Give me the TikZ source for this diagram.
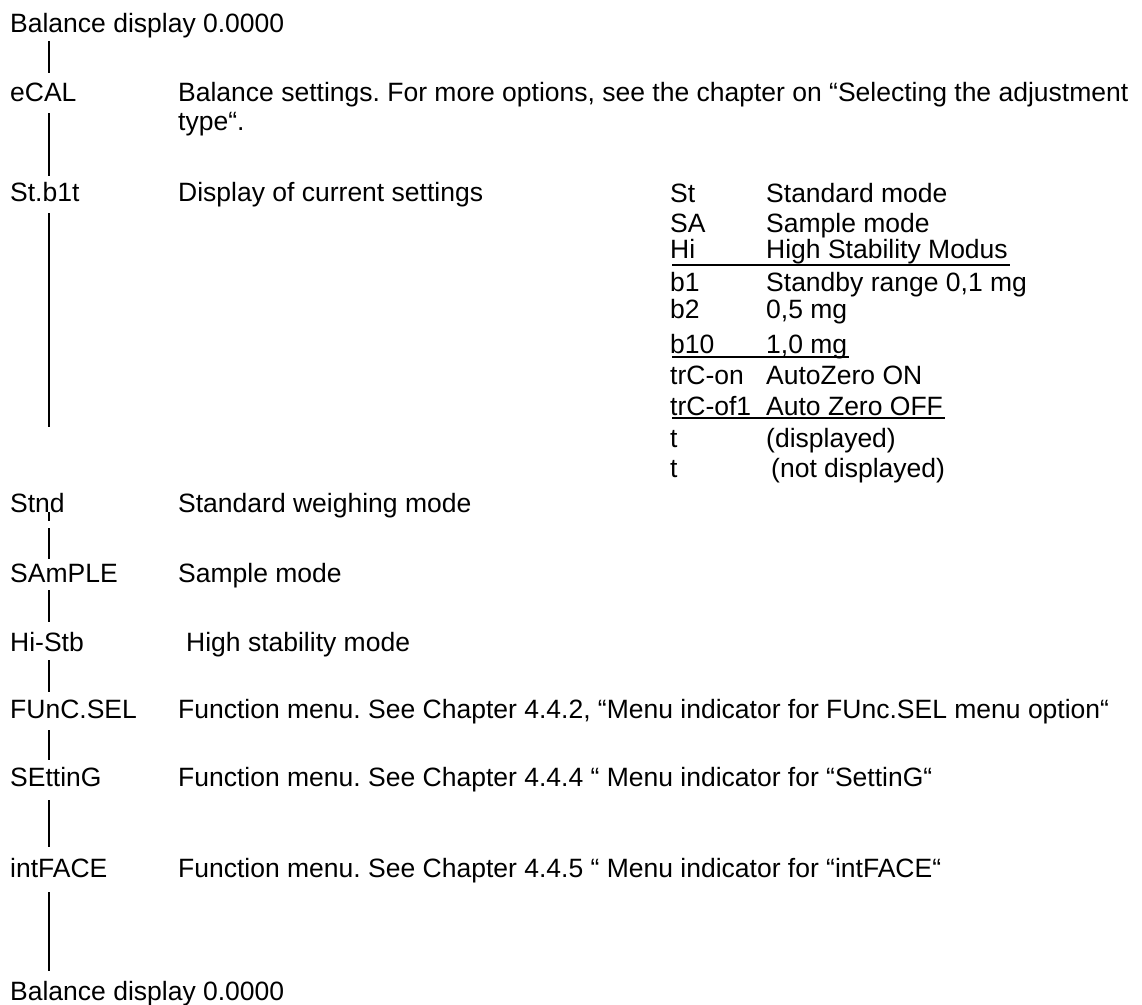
\documentclass[tikz,border=0pt]{standalone}
\usepackage{fontspec}
\setmainfont{Liberation Sans}
\frenchspacing
\begin{document}
\begin{tikzpicture}[x=1pt,y=1pt,
  txt/.style={anchor=base west,inner sep=0pt,font=\fontsize{26.5}{30}\selectfont},
  conn/.style={line width=2.2pt,line cap=butt},
  uline/.style={line width=1.8pt}]
\useasboundingbox (0,0) rectangle (1142,-1004);
% left column
\node[txt] (bal1) at (10,-32) {Balance display 0.0000};
\node[txt] (ecal) at (10,-101) {eCAL};
\node[txt] (stb) at (10,-201) {St.b1t};
\node[txt] (stnd) at (10,-512) {Stnd};
\node[txt] (samp) at (10,-582) {SAmPLE};
\node[txt] (histb) at (10,-651) {Hi-Stb};
\node[txt] (func) at (10,-718) {FUnC.SEL};
\node[txt] (sett) at (10,-786) {SEttinG};
\node[txt] (intf) at (10,-877) {intFACE};
\node[txt] (bal2) at (10,-1000) {Balance display 0.0000};
% descriptions
\node[txt] (d1a) at (178,-101) {Balance settings. For more options, see the chapter on “Selecting the adjustment};
\node[txt] (d1b) at (178,-130) {type“.};
\node[txt] (d2) at (178,-201) {Display of current settings};
\node[txt] (d3) at (178,-512) {Standard weighing mode};
\node[txt] (d4) at (178,-582) {Sample mode};
\node[txt] (d5) at (186,-651) {High stability mode};
\node[txt] (d6) at (178,-718) {Function menu. See Chapter 4.4.2, “Menu indicator for FUnc.SEL menu option“};
\node[txt] (d7) at (178,-786) {Function menu. See Chapter 4.4.4 “ Menu indicator for “SettinG“};
\node[txt] (d8) at (178,-877) {Function menu. See Chapter 4.4.5 “ Menu indicator for “intFACE“};
% table
\node[txt] (k1) at (670,-202) {St};      \node[txt] (v1) at (766,-202) {Standard mode};
\node[txt] (k2) at (670,-232) {SA};      \node[txt] (v2) at (766,-232) {Sample mode};
\node[txt] (k3) at (670,-258) {Hi};      \node[txt] (v3) at (766,-258) {High Stability Modus};
\node[txt] (k4) at (670,-291) {b1};      \node[txt] (v4) at (766,-291) {Standby range 0,1 mg};
\node[txt] (k5) at (670,-318) {b2};      \node[txt] (v5) at (766,-318) {0,5 mg};
\node[txt] (k6) at (670,-353) {b10};     \node[txt] (v6) at (766,-353) {1,0 mg};
\node[txt] (k7) at (670,-384) {trC-on};  \node[txt] (v7) at (766,-384) {AutoZero ON};
\node[txt] (k8) at (670,-415) {trC-of1}; \node[txt] (v8) at (766,-415) {Auto Zero OFF};
\node[txt] (k9) at (670,-447) {t};       \node[txt] (v9) at (766,-447) {(displayed)};
\node[txt] (k10) at (670,-477) {t};      \node[txt] (v10) at (771,-477) {(not displayed)};
% underlines
\coordinate (u3a) at (672,-265); \coordinate (u3b) at (1010,-265);
\coordinate (u6a) at (672,-357); \coordinate (u6b) at (849,-357);
\coordinate (u8a) at (672,-418); \coordinate (u8b) at (945,-418);
\draw[uline] (u3a) -- (u3b);
\draw[uline] (u6a) -- (u6b);
\draw[uline] (u8a) -- (u8b);
% connectors
\coordinate (c1a) at (49,-41);  \coordinate (c1b) at (49,-73);
\coordinate (c2a) at (49,-113); \coordinate (c2b) at (49,-176);
\coordinate (c3a) at (49,-213); \coordinate (c3b) at (49,-427);
\coordinate (c4a) at (49,-512); \coordinate (c4b) at (49,-521);
\coordinate (c4c) at (49,-528); \coordinate (c4d) at (49,-559);
\coordinate (c5a) at (49,-590); \coordinate (c5b) at (49,-622);
\coordinate (c6a) at (49,-660); \coordinate (c6b) at (49,-692);
\coordinate (c7a) at (49,-730); \coordinate (c7b) at (49,-760);
\coordinate (c8a) at (49,-800); \coordinate (c8b) at (49,-847);
\coordinate (c9a) at (49,-892); \coordinate (c9b) at (49,-971);
\draw[conn] (c1a) -- (c1b);
\draw[conn] (c2a) -- (c2b);
\draw[conn] (c3a) -- (c3b);
\draw[conn] (c4a) -- (c4b);
\draw[conn] (c4c) -- (c4d);
\draw[conn] (c5a) -- (c5b);
\draw[conn] (c6a) -- (c6b);
\draw[conn] (c7a) -- (c7b);
\draw[conn] (c8a) -- (c8b);
\draw[conn] (c9a) -- (c9b);
\end{tikzpicture}
\end{document}
